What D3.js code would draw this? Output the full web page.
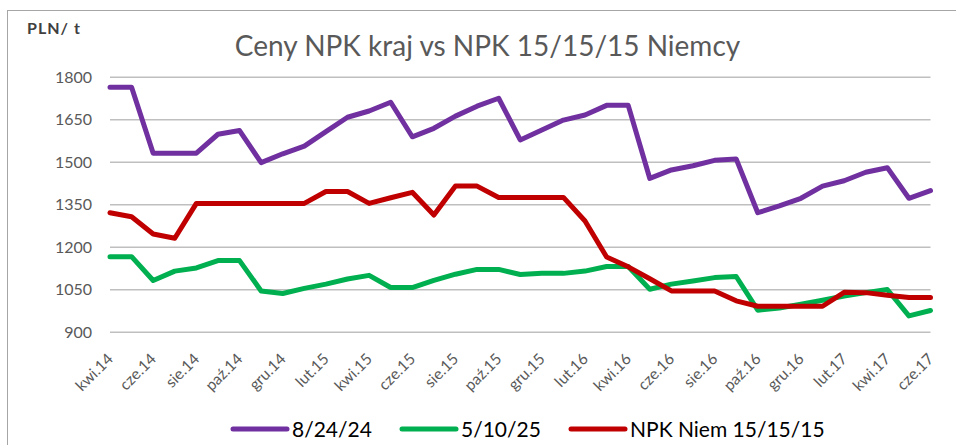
<!DOCTYPE html>
<html>
<head>
<meta charset="utf-8">
<script src="https://cdn.jsdelivr.net/npm/d3@7"></script>
<style>
  html, body { margin: 0; padding: 0; background: #fff; }
  svg { display: block; }
  text { font-family: Lato, "Open Sans", sans-serif; }
</style>
</head>
<body>
<svg id="chart" width="956" height="445"></svg>
<script>
const months = ["kwi.14","maj.14","cze.14","lip.14","sie.14","wrz.14","paź.14","lis.14","gru.14","sty.15","lut.15","mar.15",
  "kwi.15","maj.15","cze.15","lip.15","sie.15","wrz.15","paź.15","lis.15","gru.15","sty.16","lut.16","mar.16",
  "kwi.16","maj.16","cze.16","lip.16","sie.16","wrz.16","paź.16","lis.16","gru.16","sty.17","lut.17","mar.17",
  "kwi.17","maj.17","cze.17"];

const npk82424 = [1765,1765,1532,1532,1532,1599,1612,1499,1530,1557,1608,1659,
  1681,1712,1590,1620,1663,1698,1726,1579,1614,1649,1667,1701,
  1701,1443,1473,1488,1507,1512,1322,1346,1373,1416,1435,1465,
  1481,1373,1400];

const npk51025 = [1167,1167,1083,1116,1127,1153,1153,1046,1037,1055,1070,1088,
  1101,1058,1058,1083,1105,1122,1122,1104,1108,1108,1116,1132,
  1132,1052,1070,1081,1093,1097,978,986,999,1013,1028,1040,
  1051,958,977];

const npkNiem = [1322,1308,1247,1232,1355,1355,1355,1355,1355,1355,1397,1397,
  1355,1375,1394,1314,1416,1416,1376,1376,1376,1376,1293,1166,
  1131,1089,1046,1046,1046,1011,992,992,992,992,1041,1040,
  1031,1023,1023];

const yTicks = [900,1050,1200,1350,1500,1650,1800];
const seriesNames = ["8/24/24","5/10/25","NPK Niem 15/15/15"];
const seriesColors = ["#7030a0","#00b050","#c00000"];
const seriesData = [npk82424, npk51025, npkNiem];

const svg = d3.select("#chart");

// outer chart border
svg.append("rect").attr("x",7.5).attr("y",10.5).attr("width",960).attr("height",450)
  .attr("fill","none").attr("stroke","#a6a6a6").attr("stroke-width",1);

const x = d3.scalePoint().domain(months).range([110, 930.5]);
const y = d3.scaleLinear().domain([900,1800]).range([332.3, 77.3]);

// gridlines
svg.append("g").selectAll("line").data(yTicks).join("line")
  .attr("x1",110).attr("x2",930.5)
  .attr("y1",d=>y(d)).attr("y2",d=>y(d))
  .attr("stroke","#bfbfbf").attr("stroke-width",1.5);

// y axis labels
const yAxis = d3.axisLeft(y).tickValues(yTicks).tickSize(0).tickPadding(0).tickFormat(d3.format("d"));
const gy = svg.append("g").attr("transform","translate(92,0)").call(yAxis);
gy.select(".domain").remove();
gy.selectAll("text").attr("font-size","16px").attr("fill","#595959")
  .attr("font-family","Lato, 'Open Sans', sans-serif");

// x axis labels
const xAxis = d3.axisBottom(x).tickValues(months.filter((d,i)=>i%2===0)).tickSize(0).tickPadding(0);
const gx = svg.append("g").attr("transform","translate(0,0)").call(xAxis);
gx.select(".domain").remove();
gx.selectAll(".tick").attr("transform", d => `translate(${x(d)+4},360)`);
gx.selectAll("text")
  .attr("x",0).attr("y",0).attr("dy",0)
  .attr("text-anchor","end")
  .attr("transform","rotate(-45)")
  .attr("font-size","15.5px").attr("fill","#595959")
  .attr("font-family","Lato, 'Open Sans', sans-serif");

// lines
const line = d3.line().x((d,i)=>x(months[i])).y(d=>y(d)).curve(d3.curveLinear);
svg.append("g").selectAll("path").data(seriesData).join("path")
  .attr("d", d=>line(d))
  .attr("fill","none")
  .attr("stroke",(d,i)=>seriesColors[i])
  .attr("stroke-width",5)
  .attr("stroke-linejoin","round")
  .attr("stroke-linecap","round");

// title
svg.append("text").attr("x",487.5).attr("y",56).attr("text-anchor","middle")
  .attr("font-size","28px").attr("fill","#595959")
  .text("Ceny NPK kraj vs NPK 15/15/15 Niemcy");

// y unit label
svg.append("text").attr("x",27).attr("y",34).attr("font-size","16px").attr("font-weight","bold")
  .attr("letter-spacing","1px")
  .attr("fill","#404040").text("PLN/ t");

// legend
const legendX = [233, 402, 571];
const lg = svg.append("g").selectAll("g").data(seriesNames).join("g")
  .attr("transform",(d,i)=>`translate(${legendX[i]},429)`);
lg.append("line").attr("x1",0).attr("x2",54).attr("y1",0).attr("y2",0)
  .attr("stroke",(d,i)=>seriesColors[i]).attr("stroke-width",5).attr("stroke-linecap","round");
lg.append("text").attr("x",59).attr("y",8).attr("font-size","21px").attr("fill","#000")
  .text(d=>d);
</script>
</body>
</html>
